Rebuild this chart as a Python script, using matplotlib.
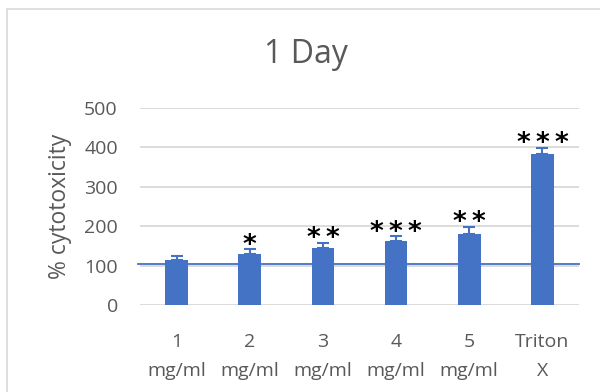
import matplotlib
matplotlib.use("Agg")
import matplotlib.pyplot as plt
import numpy as np

# Data
categories = ["1\nmg/ml", "2\nmg/ml", "3\nmg/ml", "4\nmg/ml", "5\nmg/ml", "Triton\nX"]
cytotoxicity = [115, 131, 146, 163, 181, 384]
errors = [10, 11, 12, 12, 18, 15]
stars = [0, 1, 2, 3, 2, 3]
baseline = 104

blue = "#4472C4"
grey_text = "#595959"
plt.rcParams['font.family'] = ['Open Sans', 'DejaVu Sans']

fig = plt.figure(figsize=(6, 3.92), dpi=100)
ax = fig.add_axes([0.2333, 0.2207, 0.7317, 0.5038])

x = np.arange(len(categories))
ax.bar(x, cytotoxicity, width=0.31, color=blue, zorder=3)
ax.errorbar(x, cytotoxicity, yerr=[np.zeros(len(errors)), errors], fmt='none',
            ecolor=blue, elinewidth=1.5, capsize=4.3, capthick=1.5, zorder=4)

# reference line
ax.axhline(baseline, color=blue, lw=1.3, zorder=5, xmin=-0.005, clip_on=False)

# significance stars
for xi, v, e, n in zip(x, cytotoxicity, errors, stars):
    if n:
        ax.annotate("\u2009".join("*" * n), (xi, v + e), xytext=(0, -2.4),
                    textcoords='offset points', ha='center', va='baseline',
                    fontsize=19, color='black', family='DejaVu Sans',
                    fontweight='bold')

ax.set_xlim(-0.5, len(categories) - 0.5)
ax.set_ylim(0, 500)
ax.set_yticks(range(0, 501, 100))
ax.yaxis.grid(True, color='#D9D9D9', lw=1.3, zorder=0)
ax.set_axisbelow(True)
for sp in ax.spines.values():
    sp.set_visible(False)

ax.set_xticks(x)
ax.set_xticklabels(categories, linespacing=1.75)
ax.tick_params(axis='both', length=0, labelsize=14, colors=grey_text)
ax.tick_params(axis='x', pad=20)
ax.tick_params(axis='y', pad=16)

ax.set_ylabel("% cytotoxicity", fontsize=16.5, color=grey_text, labelpad=9)
fig.text(0.51, 0.862, "1 Day", ha='center', va='center', fontsize=23, color=grey_text)

# chart border
fig.patches.append(plt.Rectangle((7 / 600, -0.1), 1.2, 1 - 9 / 392 + 0.1,
                                 transform=fig.transFigure, fill=False,
                                 edgecolor='#D9D9D9', lw=1.2))

fig.savefig("out.png", dpi=100)
